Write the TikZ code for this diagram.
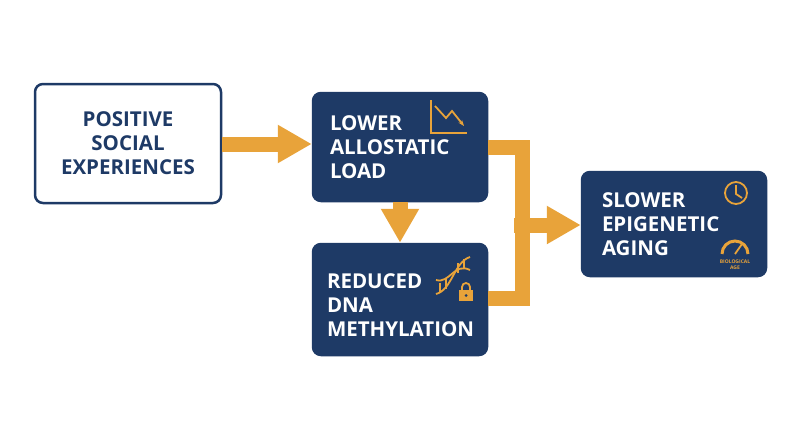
\documentclass[tikz,border=0pt]{standalone}
\usepackage{fontspec}
\setmainfont{Open Sans}
\usetikzlibrary{positioning,arrows.meta}
\definecolor{navy}{HTML}{1E3A66}
\definecolor{gold}{HTML}{E8A33A}
\begin{document}
\begin{tikzpicture}[x=1pt,y=-1pt,
	box/.style={rectangle,rounded corners=8pt,line width=2.5pt,draw=navy,fill=navy,text=white,font=\bfseries\fontsize{20.5}{24}\selectfont,align=left,inner sep=0pt},
	flow/.style={gold,line width=15pt,-{Triangle[length=34pt,width=36pt]}},
	icon/.style={gold,line width=1.8pt}]
		\useasboundingbox (0,0) rectangle (800,447);

		%boxes
		\node[box,fill=white,text=navy,align=center,minimum width=186pt,minimum height=119pt] (pos) at (128,143.5) {POSITIVE\\SOCIAL\\EXPERIENCES};
		\node[box,minimum width=174pt,minimum height=108pt,text width=140pt] (low) at (400,147) {LOWER\\ALLOSTATIC\\LOAD};
		\node[box,minimum width=174pt,minimum height=111pt,text width=146pt] (dna) at (400,299.5) {\\[2pt]REDUCED\\DNA\\METHYLATION};
		\node[box,minimum width=184pt,minimum height=104pt,text width=144pt] (slow) at (674,224) {SLOWER\\EPIGENETIC\\AGING};

		%arrows
		\draw[flow] (pos.east|-0,144) -- (low.west|-0,144);
		\draw[flow] (low.south) -- (dna.north);
		\draw[gold,line width=15pt] (low.east|-0,147) -| (522,298) -- (dna.east|-0,298);
		\draw[flow] (514,225) -- (slow.west|-0,225);

		%chart icon
		\draw[icon] (431,100) -- (431,133) -- (467,133);
		\draw[icon,-{Stealth[length=6pt]}] (435,106) -- (446,118) -- (452,111) -- (464,126);

		%dna icon
		\draw[icon] (436,294) .. controls (452,290) and (454,262) .. (470,257);
		\draw[icon] (436,280) .. controls (450,284) and (454,262) .. (470,270);
		\foreach \a/\b in {440/288,446/284,458/268,464/264} \draw[gold,line width=1.2pt] (\a,\b-5) -- (\a,\b+5);
		\draw[icon] (462,290) -- (462,287) arc (180:360:4) -- (470,290);
		\fill[gold] (459,290) rectangle (473,301);
		\fill[navy] (466,295.5) circle (1.5pt);

		%clock icon
		\draw[icon] (736,193) circle (11);
		\draw[icon] (736,185) -- (736,194) -- (742,198);

		%gauge icon
		\draw[gold,line width=3pt] (722,254) arc (180:360:13);
		\draw[icon] (735,254) -- (742,244);
		\node[text=gold,font=\bfseries\fontsize{5}{6}\selectfont,align=center,inner sep=0pt] (age) at (735,265) {BIOLOGICAL\\AGE};
\end{tikzpicture}
\end{document}
